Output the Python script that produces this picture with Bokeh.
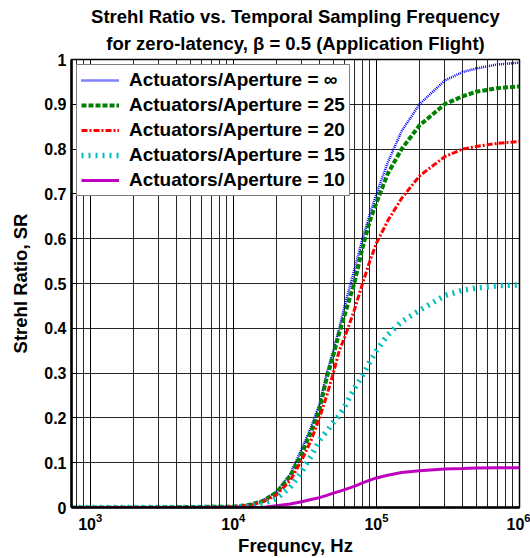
from bokeh.plotting import figure
from bokeh.models import (Range1d, FixedTicker, LogTicker, Title, Legend, LegendItem)
from bokeh.embed import file_html
from bokeh.resources import INLINE

# ---- data ----
freq = [740, 1e3, 2e3, 5e3, 1e4, 1.3e4, 1.6e4, 2e4, 2.5e4, 3e4, 3.5e4, 4e4, 4.5e4,
        5e4, 5.5e4, 6e4, 7e4, 8e4, 9e4, 1e5, 1.2e5, 1.5e5, 2e5, 3e5, 4e5, 5e5, 7e5, 1e6]

sr_inf = [0, 0, 0, 0.001, 0.002, 0.006, 0.015, 0.035, 0.075, 0.13, 0.18, 0.23, 0.30,
          0.35, 0.40, 0.45, 0.53, 0.60, 0.655, 0.70, 0.77, 0.84, 0.90, 0.953, 0.972, 0.98, 0.989, 0.993]
sr_25 = [0, 0, 0, 0.001, 0.002, 0.006, 0.014, 0.033, 0.07, 0.12, 0.17, 0.22, 0.29,
         0.34, 0.39, 0.43, 0.50, 0.58, 0.64, 0.68, 0.745, 0.80, 0.853, 0.90, 0.918, 0.928, 0.936, 0.94]
sr_20 = [0, 0, 0, 0.0, 0.001, 0.005, 0.012, 0.028, 0.06, 0.105, 0.15, 0.20, 0.25,
         0.30, 0.35, 0.38, 0.44, 0.50, 0.55, 0.59, 0.64, 0.69, 0.74, 0.783, 0.80, 0.806, 0.813, 0.817]
sr_15 = [0, 0, 0, 0.0, 0.001, 0.003, 0.008, 0.02, 0.045, 0.08, 0.115, 0.15, 0.17,
         0.19, 0.205, 0.225, 0.265, 0.295, 0.325, 0.35, 0.385, 0.415, 0.44, 0.473, 0.485, 0.49, 0.495, 0.497]
sr_10 = [0, 0, 0, 0.0, 0.0, 0.0, 0.0, 0.004, 0.008, 0.013, 0.018, 0.022, 0.027,
         0.032, 0.036, 0.04, 0.047, 0.055, 0.061, 0.066, 0.072, 0.078, 0.082, 0.086, 0.087, 0.088, 0.089, 0.089]

labels = ["Actuators/Aperture = \u221e", "Actuators/Aperture = 25", "Actuators/Aperture = 20",
          "Actuators/Aperture = 15", "Actuators/Aperture = 10"]
y_ticks = [0, 0.1, 0.2, 0.3, 0.4, 0.5, 0.6, 0.7, 0.8, 0.9, 1.0]
y_tick_labels = ["0", "0.1", "0.2", "0.3", "0.4", "0.5", "0.6", "0.7", "0.8", "0.9", "1"]

FONT = "Liberation Sans"

p = figure(x_axis_type="log", output_backend="svg", toolbar_location=None,
           frame_width=448, frame_height=448, width=530, height=558,
           x_range=Range1d(740, 1e6), y_range=Range1d(0, 1),
           min_border_left=71, min_border_right=11, min_border_top=59, min_border_bottom=51)
p.background_fill_color = "white"
p.border_fill_color = "white"
p.outline_line_color = "black"
p.outline_line_width = 1.5

# titles
t2 = Title(text="for zero-latency, \u03b2 = 0.5 (Application Flight)", align="center",
           text_font=FONT, text_font_size="18.5px", text_font_style="bold", text_color="black",
           standoff=11)
t1 = Title(text="Strehl Ratio vs. Temporal Sampling Frequency", align="center",
           text_font=FONT, text_font_size="18.5px", text_font_style="bold", text_color="black",
           standoff=-2)
p.add_layout(t2, "above")
p.add_layout(t1, "above")
p.title.visible = False

# axes
p.xaxis.ticker = LogTicker(num_minor_ticks=10)
p.yaxis.ticker = FixedTicker(ticks=y_ticks, minor_ticks=[])
p.yaxis.major_label_overrides = {t: l for t, l in zip(y_ticks, y_tick_labels)}
for ax in (p.xaxis[0], p.yaxis[0]):
    ax.axis_line_color = "black"
    ax.axis_line_width = 2.5
    ax.major_tick_in = 5
    ax.major_tick_out = 0
    ax.minor_tick_in = 3
    ax.minor_tick_out = 0
    ax.major_tick_line_color = "black"
    ax.minor_tick_line_color = "black"
    ax.major_label_text_font = FONT
    ax.major_label_text_font_style = "bold"
    ax.major_label_text_font_size = "16px"
    ax.major_label_text_color = "black"
    ax.axis_label_text_font = FONT
    ax.axis_label_text_font_style = "bold"
    ax.axis_label_text_font_size = "18.5px"
    ax.axis_label_text_color = "black"
p.xaxis.axis_label = "Frequncy, Hz"
p.yaxis.axis_label = "Strehl Ratio, SR"
p.xaxis.axis_label_standoff = 2
p.yaxis.axis_label_standoff = 10

# grid
p.xgrid.grid_line_color = "black"
p.xgrid.grid_line_alpha = 0.85
p.xgrid.minor_grid_line_color = "black"
p.xgrid.minor_grid_line_alpha = 0.85
p.ygrid.grid_line_color = "black"
p.ygrid.grid_line_alpha = 0.85
p.ygrid.ticker = FixedTicker(ticks=y_ticks, minor_ticks=[])

# curves
r_inf = p.line(freq, sr_inf, line_color="#0000ff", line_width=2.5, line_dash="1 1")
r25 = p.line(freq, sr_25, line_color="#008000", line_width=4, line_dash="5 2")
r20 = p.line(freq, sr_20, line_color="#ff0000", line_width=3, line_dash="6 2 2 2")
r15 = p.line(freq, sr_15, line_color="#00bfbf", line_width=5.5, line_dash="2 5")
r10 = p.line(freq, sr_10, line_color="#bf00bf", line_width=3)

legend = Legend(items=[LegendItem(label=l, renderers=[r]) for l, r in
                       zip(labels, [r_inf, r25, r20, r15, r10])],
                location="top_left")
legend.label_text_font = FONT
legend.label_text_font_style = "bold"
legend.label_text_font_size = "19px"
legend.label_text_color = "black"
legend.glyph_width = 38
legend.glyph_height = 22
legend.label_height = 22
legend.spacing = 3
legend.padding = 4
legend.margin = 5
legend.label_standoff = 10
legend.border_line_color = "black"
legend.border_line_width = 1.5
legend.background_fill_color = "white"
legend.background_fill_alpha = 1
p.add_layout(legend)

open("out.html", "w").write(file_html(p, INLINE))
